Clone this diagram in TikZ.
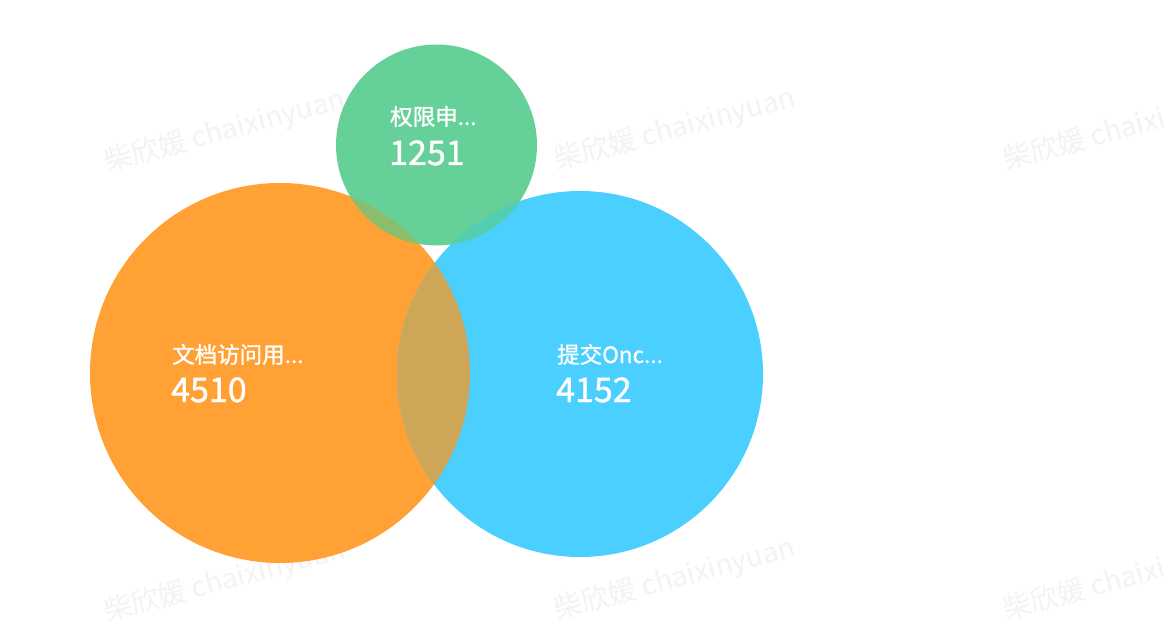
\documentclass[tikz,border=0pt]{standalone}
\usepackage{fontspec}
\newfontfamily\cjk{Noto Sans CJK SC}
\newfontfamily\cjkb[FakeBold=1.2]{Noto Sans CJK SC}
\definecolor{cOrange}{RGB}{255,161,52}
\definecolor{cBlue}{RGB}{74,207,255}
\definecolor{cGreen}{RGB}{102,208,153}
\definecolor{cOB}{RGB}{205,166,88}
\definecolor{cGO}{RGB}{138,190,108}
\definecolor{cGB}{RGB}{84,206,178}
\definecolor{cMark}{RGB}{243,243,243}
\tikzset{
  setcircle/.style={circle, inner sep=0pt, outer sep=0pt, draw=none},
  setlabel/.style={anchor=base west, inner sep=0pt, text=white, font=\cjkb\fontsize{22.5}{26}\selectfont},
  setnum/.style={anchor=base west, inner sep=0pt, text=white, font=\cjkb\fontsize{34}{38}\selectfont},
  wmark/.style={anchor=base west, inner sep=0pt, text=cMark, rotate=15, font=\cjk\fontsize{28}{32}\selectfont}
}
\begin{document}
\begin{tikzpicture}[x=1pt,y=-1pt]
\useasboundingbox (0,0) rectangle (1164,644);
\fill[white] (0,0) rectangle (1164,644);
% watermarks
\node[wmark] (w1) at (107,172) {柴欣媛 chaixinyuan};
\node[wmark] (w2) at (557,170) {柴欣媛 chaixinyuan};
\node[wmark] (w3) at (1006,170) {柴欣媛 chaixinyuan};
\node[wmark] (w4) at (107,622) {柴欣媛 chaixinyuan};
\node[wmark] (w5) at (557,620) {柴欣媛 chaixinyuan};
\node[wmark] (w6) at (1006,620) {柴欣媛 chaixinyuan};
% circles
\node[setcircle, fill=cOrange, minimum size=380pt] (orange) at (280,373) {};
\node[setcircle, fill=cBlue, minimum size=366pt] (blue) at (580,374) {};
\node[setcircle, fill=cGreen, minimum size=201pt] (green) at (436.5,145) {};
% intersections
\begin{scope}
  \clip (280,373) circle (190);
  \fill[cOB] (580,374) circle (183);
\end{scope}
\begin{scope}
  \clip (436.5,145) circle (100.5);
  \fill[cGO] (280,373) circle (190);
  \fill[cGB] (580,374) circle (183);
\end{scope}
% labels
\node[setlabel] (gl) at (390,125) {权限申...};
\node[setnum] (gn) at (389,165) {1251};
\node[setlabel] (ol) at (172,363) {文档访问用...};
\node[setnum] (on) at (171,402) {4510};
\node[setlabel] (bl) at (557,363) {提交Onc...};
\node[setnum] (bn) at (556,402) {4152};
\end{tikzpicture}
\end{document}
